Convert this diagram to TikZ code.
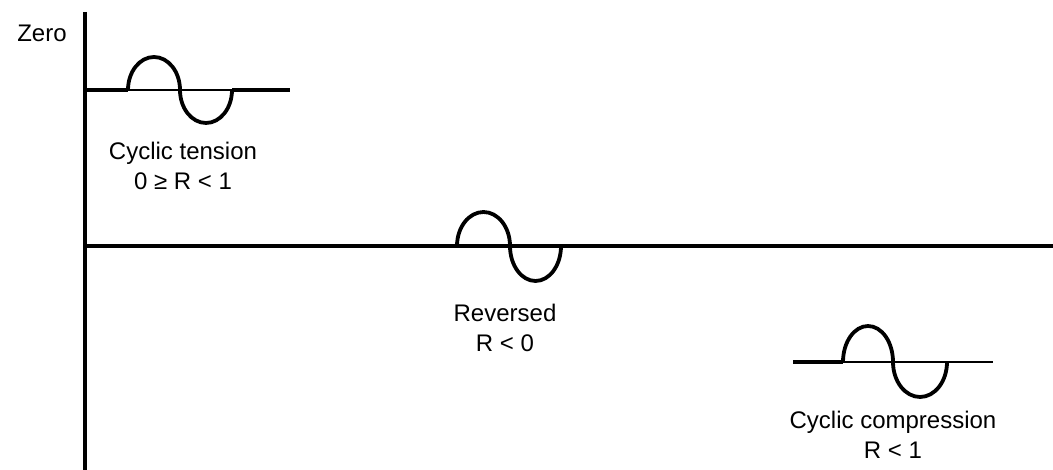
\documentclass[tikz,border=0pt]{standalone}
\usepackage{fontspec}
\setmainfont{Liberation Sans}
\begin{document}
\begin{tikzpicture}[
    x=0.5pt, y=0.5pt,
    font=\fontsize{12}{15}\selectfont,
    eje/.style={line width=1.6pt},
    base/.style={line width=0.8pt},
    onda/.style={line width=1.9pt},
    rotulo/.style={align=center, inner sep=0pt}
  ]
    \useasboundingbox (0,0) rectangle (1053,470);

    % --- EJES ---
    \coordinate (ejearriba) at (85,458);
    \coordinate (ejeabajo) at (85,0);
    \coordinate (ceroizq) at (85,224);
    \coordinate (ceroder) at (1053,224);
    \draw[eje] (ejearriba) -- (ejeabajo);
    \draw[eje] (ceroizq) -- (ceroder);
    \node[rotulo] (zero) at (42,437) {Zero};

    % --- TENSION CICLICA ---
    \coordinate (tini) at (85,380);
    \coordinate (ta) at (128,380);
    \coordinate (tb) at (232,380);
    \coordinate (tfin) at (290,380);
    \draw[eje] (tini) -- (ta);
    \draw[base] (ta) -- (tb);
    \draw[eje] (tb) -- (tfin);
    \draw[onda] (ta) arc[start angle=180, end angle=0, x radius=26, y radius=33]
                     arc[start angle=180, end angle=360, x radius=26, y radius=33];
    \node[rotulo] (tension) at (183,304) {Cyclic tension\\0 ≥ R < 1};

    % --- INVERTIDA ---
    \coordinate (ra) at (457,224);
    \draw[onda] (ra) arc[start angle=180, end angle=0, x radius=26.5, y radius=34]
                     arc[start angle=180, end angle=360, x radius=25.5, y radius=35];
    \node[rotulo] (reversed) at (505,142) {Reversed\\R < 0};

    % --- COMPRESION CICLICA ---
    \coordinate (cini) at (793,108);
    \coordinate (ca) at (843,108);
    \coordinate (cb) at (947,108);
    \coordinate (cfin) at (993,108);
    \draw[eje] (cini) -- (ca);
    \draw[base] (ca) -- (cb);
    \draw[line width=1.1pt] (cb) -- (cfin);
    \draw[onda] (ca) arc[start angle=180, end angle=0, x radius=25, y radius=36]
                     arc[start angle=180, end angle=360, x radius=27, y radius=35];
    \node[rotulo] (compression) at (893,35) {Cyclic compression\\R < 1};

  \end{tikzpicture}
\end{document}
